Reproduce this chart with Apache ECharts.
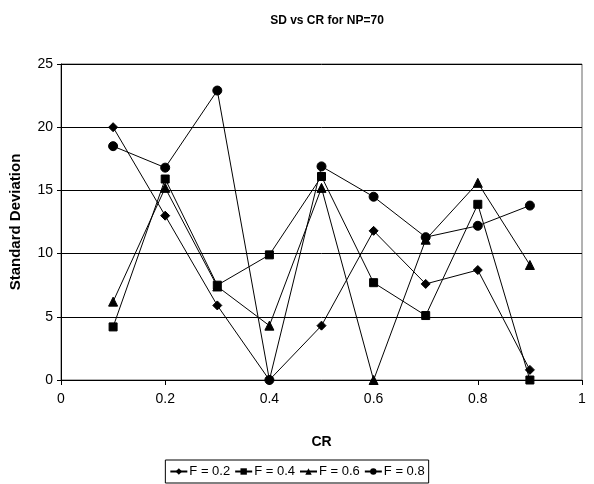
<!DOCTYPE html>
<html>
<head>
<meta charset="utf-8">
<script src="https://cdn.jsdelivr.net/npm/echarts@6/dist/echarts.min.js"></script>
<style>
html,body{margin:0;padding:0;background:#fff;}
#chart{width:594px;height:484px;}
</style>
</head>
<body>
<div id="chart"></div>
<script>
var crValues = [0.1, 0.2, 0.3, 0.4, 0.5, 0.6, 0.7, 0.8, 0.9];
var seriesNames = ['F = 0.2', 'F = 0.4', 'F = 0.6', 'F = 0.8'];
var f02 = [20.0, 13.0, 5.9, 0.0, 4.3, 11.8, 7.6, 8.7, 0.8];
var f04 = [4.2, 15.9, 7.5, 9.9, 16.1, 7.7, 5.1, 13.9, 0.0];
var f06 = [6.2, 15.2, 7.4, 4.3, 15.2, 0.0, 11.1, 15.6, 9.1];
var f08 = [18.5, 16.8, 22.9, 0.0, 16.9, 14.5, 11.3, 12.2, 13.8];
var xTicks = [0, 0.2, 0.4, 0.6, 0.8, 1];
var yTicks = [0, 5, 10, 15, 20, 25];

var allValues = [f02, f04, f06, f08];
var symbols = ['diamond', 'rect', 'triangle', 'circle'];
var symbolSizes = [9, 8, 9, 9];
var font = 'Liberation Sans, Arial, sans-serif';

function pairs(vals) {
  return crValues.map(function (x, i) { return [x, vals[i]]; });
}

var series = seriesNames.map(function (name, i) {
  return {
    name: name,
    type: 'line',
    data: pairs(allValues[i]),
    symbol: symbols[i],
    symbolSize: symbolSizes[i],
    showAllSymbol: true,
    lineStyle: { color: '#000', width: 1 },
    itemStyle: { color: '#000', borderColor: '#000' },
    emphasis: { disabled: true },
    z: 3
  };
});

var chart = echarts.init(document.getElementById('chart'), null, { renderer: 'canvas' });
chart.setOption({
  animation: false,
  backgroundColor: '#fff',
  title: {
    text: 'SD vs CR for NP=70',
    left: 322,
    top: 10,
    textAlign: 'center',
    textStyle: { fontFamily: font, fontSize: 12, fontWeight: 'bold', color: '#000' }
  },
  grid: {
    left: 61, right: 12, top: 64, bottom: 104,
    show: true, borderColor: '#666', borderWidth: 1, backgroundColor: 'transparent'
  },
  legend: {
    data: seriesNames,
    bottom: 1,
    left: 'center',
    orient: 'horizontal',
    itemWidth: 17,
    itemHeight: 8,
    itemGap: 4,
    padding: [5, 4],
    borderColor: '#000',
    borderWidth: 1,
    textStyle: { fontFamily: font, fontSize: 13, color: '#000', padding: [0, 0, 0, -3] }
  },
  xAxis: {
    type: 'value',
    min: 0, max: 1, interval: 0.2,
    name: 'CR',
    nameLocation: 'middle',
    nameGap: 55,
    nameTextStyle: { fontFamily: font, fontSize: 14, fontWeight: 'bold', color: '#000' },
    axisLine: { show: true, lineStyle: { color: '#000', width: 1 } },
    axisTick: { show: true, inside: false, length: 5, lineStyle: { color: '#000' } },
    axisLabel: {
      fontFamily: font, fontSize: 14, color: '#000', margin: 12,
      formatter: function (v) { return xTicks.indexOf(Math.round(v * 10) / 10) >= 0 ? String(Math.round(v * 10) / 10) : ''; }
    },
    splitLine: { show: false }
  },
  yAxis: {
    type: 'value',
    min: 0, max: 25, interval: 5,
    name: 'Standard Deviation',
    nameLocation: 'middle',
    nameGap: 38,
    nameTextStyle: { fontFamily: font, fontSize: 15, fontWeight: 'bold', color: '#000' },
    axisLine: { show: true, lineStyle: { color: '#000', width: 1 } },
    axisTick: { show: true, inside: false, length: 4, lineStyle: { color: '#000' } },
    axisLabel: {
      fontFamily: font, fontSize: 14, color: '#000', margin: 8,
      formatter: function (v) { return yTicks.indexOf(v) >= 0 ? String(v) : ''; }
    },
    splitLine: { show: true, lineStyle: { color: '#000', width: 1 } }
  },
  series: series
});
</script>
</body>
</html>
